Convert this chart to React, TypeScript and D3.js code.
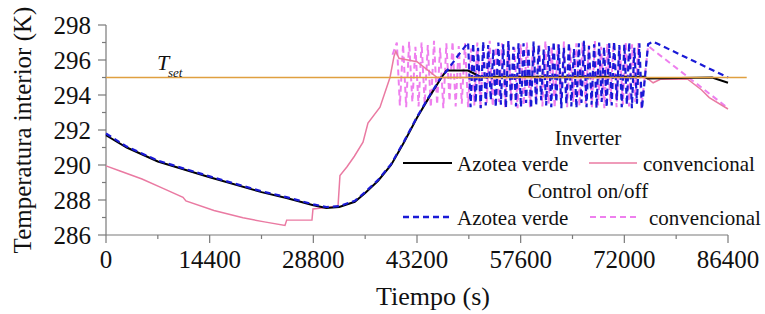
import React from "react";
import * as d3 from "d3";

// ---------- axis ticks ----------
const xTicks = [0, 14400, 28800, 43200, 57600, 72000, 86400];
const xMinor = [7200, 21600, 36000, 50400, 64800, 79200];
const yTicks = [286, 288, 290, 292, 294, 296, 298];
const yMinor = [287, 289, 291, 293, 295, 297];

// ---------- set point ----------
const tSetValue = 295;
const tSetSpan = [0, 89000];

// ---------- Inverter, azotea verde (black solid) ----------
const invVerdeT = [0, 2880, 7200, 14400, 21600, 25200, 28800, 30600, 32400, 34560, 36000, 37800, 39600, 41400, 43200, 45000, 46600, 47300, 50300, 52000, 74800, 75200, 84200, 86400];
const invVerdeV = [291.7, 291.0, 290.2, 289.3, 288.45, 288.1, 287.7, 287.55, 287.6, 287.9, 288.4, 289.1, 290.0, 291.3, 292.7, 293.95, 295.0, 295.4, 295.4, 295.05, 295.05, 294.95, 295.0, 294.7];

// ---------- Inverter, convencional (pink solid) ----------
const invConvT = [0, 1950, 5000, 8000, 10700, 11100, 15000, 19030, 22000, 24860, 25100, 28610, 28750, 32230, 32500, 33480, 34500, 35700, 36390, 38060, 39450, 40000, 40250, 40700, 43200, 46000, 74800, 75200, 76000, 77000, 80800, 82700, 83800, 86400];
const invConvV = [289.95, 289.66, 289.2, 288.65, 288.15, 287.95, 287.4, 286.98, 286.75, 286.55, 286.85, 286.86, 287.49, 287.65, 289.4, 289.9, 290.5, 291.3, 292.4, 293.3, 295.0, 296.2, 296.5, 296.1, 295.9, 295.0, 295.0, 294.95, 294.7, 294.9, 294.9, 294.3, 293.85, 293.2];

// ---------- Control on/off, azotea verde (blue dashed) ----------
const onoffVerdeT = [0, 2880, 7200, 14400, 21600, 25200, 28800, 30600, 32400, 34560, 36000, 37800, 39600, 41400, 43200, 45000, 46600, 47400, 48800, 50300,
  50640, 51000, 51350, 51680, 52050, 52395, 52750, 53090, 53450, 53800,
  54140, 54500, 54850, 55180, 55550, 55895, 56250, 56590, 56950, 57300,
  57640, 58000, 58350, 58680, 59050, 59395, 59750, 60090, 60450, 60800,
  61140, 61500, 61850, 62180, 62550, 62895, 63250, 63590, 63950, 64300,
  64640, 65000, 65350, 65680, 66050, 66395, 66750, 67090, 67450, 67800,
  68140, 68500, 68850, 69180, 69550, 69895, 70250, 70590, 70950, 71300,
  71640, 72000, 72350, 72680, 73050, 73395, 73750, 74090, 74450,
  75300, 76000, 86400];
const onoffVerdeV = [291.8, 291.05, 290.25, 289.35, 288.5, 288.15, 287.75, 287.6, 287.65, 287.95, 288.45, 289.15, 290.05, 291.35, 292.75, 294.0, 295.05, 295.4, 296.2, 297.0,
  293.3, 296.95, 293.55, 296.7, 293.25, 297.05, 293.4, 296.85, 293.7, 296.6,
  293.3, 297.0, 293.45, 296.9, 293.25, 297.1, 293.6, 296.75, 293.35, 296.95,
  293.3, 296.95, 293.55, 296.7, 293.25, 297.05, 293.4, 296.85, 293.7, 296.6,
  293.4, 296.8, 293.3, 297.05, 293.6, 296.9, 293.25, 296.7, 293.5, 297.0,
  293.35, 296.65, 293.25, 296.95, 293.55, 297.1, 293.3, 296.8, 293.45, 296.9,
  293.25, 297.0, 293.6, 296.75, 293.3, 296.95, 293.4, 297.05, 293.7, 296.85,
  293.3, 296.9, 293.45, 297.0, 293.25, 296.7, 293.5, 296.95, 293.2,
  296.9, 297.05, 295.0];

// ---------- Control on/off, convencional (magenta dashed) ----------
const onoffConvT = [39800, 40400,
  40820, 41265, 41695, 42105, 42555, 42980, 43420, 43835, 44270, 44700,
  45120, 45565, 45995, 46405, 46855, 47280, 47720, 48135, 48570, 49000,
  49420, 49865, 50295, 50705, 51155, 51580, 52020, 52435, 52870, 53300,
  53720, 54165, 54595, 55005, 55455, 55880, 56320, 56735, 57170, 57600,
  58020, 58465, 58895, 59305, 59755, 60180, 60620, 61035, 61470, 61900,
  62320, 62765, 63195, 63605, 64055, 64480, 64920, 65335, 65770, 66200,
  66620, 67065, 67495, 67905, 68355, 68780, 69220, 69635, 70070, 70500,
  70920, 71365, 71795, 72205, 72655, 73080, 73520, 73935, 74370,
  75300, 86400];
const onoffConvV = [296.3, 297.0,
  293.4, 296.9, 293.3, 297.05, 293.6, 296.75, 293.35, 297.0, 293.5, 296.85,
  293.3, 297.1, 293.45, 296.7, 293.25, 296.95, 293.65, 297.05, 293.35, 296.8,
  293.5, 296.95, 293.3, 296.65, 293.4, 297.0, 293.25, 296.85, 293.55, 297.1,
  293.35, 296.75, 293.6, 296.95, 293.3, 297.05, 293.45, 296.7, 293.25, 296.9,
  293.4, 297.0, 293.3, 296.8, 293.7, 296.95, 293.35, 297.1, 293.5, 296.75,
  293.25, 296.9, 293.45, 297.05, 293.3, 296.7, 293.6, 296.95, 293.35, 297.0,
  293.5, 296.85, 293.3, 297.1, 293.4, 296.75, 293.25, 296.95, 293.55, 297.0,
  293.3, 296.8, 293.45, 297.05, 293.35, 296.9, 293.6, 296.95, 293.25,
  296.8, 293.25];

const W = 765;
const H = 314;
const FONT = '"Liberation Serif", "DejaVu Serif", "Noto Serif", "Times New Roman", Times, FreeSerif, serif';

const COL_BLACK = "#000000";
const COL_PINK = "#ea7aa2";
const COL_BLUE = "#1a1ad6";
const COL_MAGENTA = "#ee7fee";
const COL_SET = "#e0a040";
const COL_AXIS = "#7a7a7a";

export default function App() {
  const x = d3.scaleLinear().domain([0, 86400]).range([106, 728]);
  const y = d3.scaleLinear().domain([286, 298]).range([235, 25]);

  const line = d3
    .line<[number, number]>()
    .x((d) => x(d[0]))
    .y((d) => y(d[1]));

  const zip = (t: number[], v: number[]) => t.map((tt, i) => [tt, v[i]] as [number, number]);

  const pInvVerde = line(zip(invVerdeT, invVerdeV)) || "";
  const pInvConv = line(zip(invConvT, invConvV)) || "";
  const pOnVerde = line(zip(onoffVerdeT, onoffVerdeV)) || "";
  const pOnConv = line(zip(onoffConvT, onoffConvV)) || "";

  const [x0, x1] = x.range();
  const [yb, yt] = y.range();

  return (
    <svg
      width={W}
      height={H}
      viewBox={`0 0 ${W} ${H}`}
      style={{ position: "absolute", left: 0, top: 0, background: "#fff" }}
      fontFamily={FONT}
    >
      <rect x={0} y={0} width={W} height={H} fill="#fff" />

      {/* axes */}
      <g stroke={COL_AXIS} strokeWidth={1.2} fill="none">
        <line x1={x0} y1={yt} x2={x0} y2={yb} />
        <line x1={x0} y1={yb} x2={x1} y2={yb} />
        {yTicks.map((v) => (
          <line key={"yt" + v} x1={x0 - 8} x2={x0} y1={y(v)} y2={y(v)} />
        ))}
        {yMinor.map((v) => (
          <line key={"ym" + v} x1={x0 - 4} x2={x0} y1={y(v)} y2={y(v)} />
        ))}
        {xTicks.map((v) => (
          <line key={"xt" + v} x1={x(v)} x2={x(v)} y1={yb} y2={yb + 8} />
        ))}
        {xMinor.map((v) => (
          <line key={"xm" + v} x1={x(v)} x2={x(v)} y1={yb} y2={yb + 4} />
        ))}
      </g>

      {/* tick labels */}
      <g fontSize={25} fill="#111" fontFamily={FONT}>
        {yTicks.map((v) => (
          <text key={"yl" + v} x={x0 - 15} y={y(v) + 9} textAnchor="end" fontFamily={FONT}>
            {v}
          </text>
        ))}
        {xTicks.map((v) => (
          <text key={"xl" + v} x={x(v)} y={268} textAnchor="middle" fontFamily={FONT}>
            {v}
          </text>
        ))}
      </g>

      {/* axis titles */}
      <text x={433} y={305} fontSize={26} textAnchor="middle" fill="#111" fontFamily={FONT}>
        Tiempo (s)
      </text>
      <text
        transform={`translate(31, 130) rotate(-90)`}
        fontSize={25}
        textAnchor="middle"
        fill="#111"
        fontFamily={FONT}
      >
        Temperatura interior (K)
      </text>

      {/* series */}
      <path d={pOnConv} fill="none" stroke={COL_MAGENTA} strokeWidth={2} strokeDasharray="6,4" />
      <path d={pInvConv} fill="none" stroke={COL_PINK} strokeWidth={1.5} />
      <path d={pInvVerde} fill="none" stroke={COL_BLACK} strokeWidth={2} />
      <path d={pOnVerde} fill="none" stroke={COL_BLUE} strokeWidth={2.2} strokeDasharray="6,4" />

      {/* set point */}
      <line
        x1={x(tSetSpan[0])}
        x2={x(tSetSpan[1])}
        y1={y(tSetValue)}
        y2={y(tSetValue)}
        stroke={COL_SET}
        strokeWidth={1.3}
      />
      <text x={157} y={70} fontSize={22} fontStyle="italic" fill="#111" fontFamily={FONT}>
        T
      </text>
      <text x={168} y={77} fontSize={13} fontStyle="italic" fill="#111" fontFamily={FONT}>
        set
      </text>

      {/* legend */}
      <g fontSize={21} fill="#111" fontFamily={FONT}>
        <text x={588} y={145} textAnchor="middle">Inverter</text>
        <line x1={403} x2={452} y1={163} y2={163} stroke={COL_BLACK} strokeWidth={2} />
        <text x={457} y={171}>Azotea verde</text>
        <line x1={589} x2={637} y1={163} y2={163} stroke={COL_PINK} strokeWidth={1.5} />
        <text x={643} y={171}>convencional</text>
        <text x={588} y={198} textAnchor="middle">Control on/off</text>
        <line x1={403} x2={452} y1={217} y2={217} stroke={COL_BLUE} strokeWidth={2.5} strokeDasharray="6,4" />
        <text x={457} y={225}>Azotea verde</text>
        <line x1={590} x2={637} y1={217} y2={217} stroke={COL_MAGENTA} strokeWidth={2} strokeDasharray="6,4" />
        <text x={649} y={225}>convencional</text>
      </g>
    </svg>
  );
}
